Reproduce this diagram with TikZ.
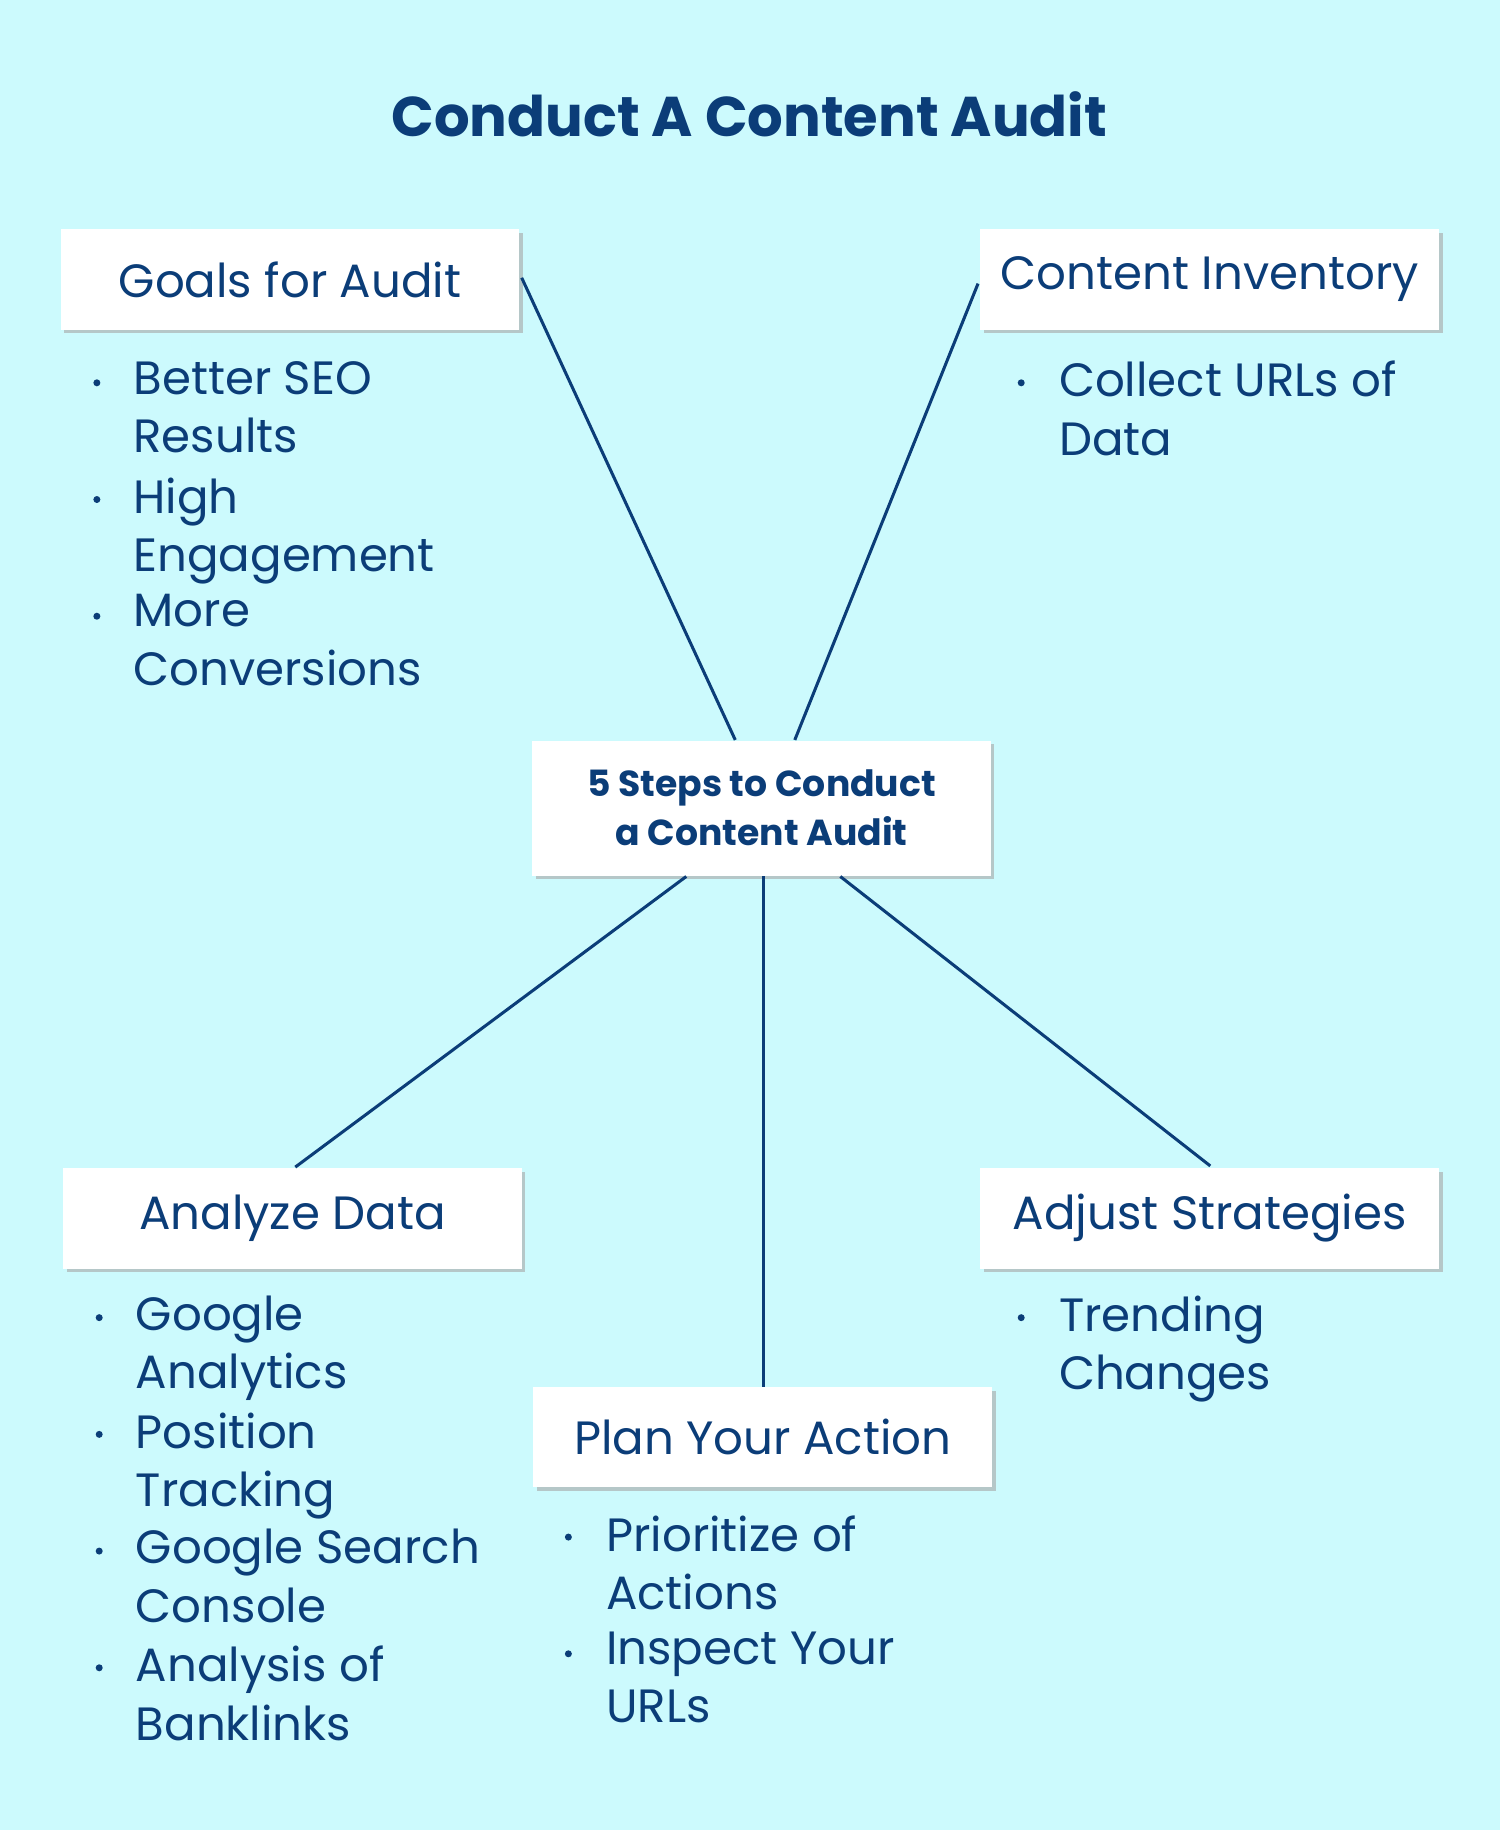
\documentclass[tikz,border=0pt]{standalone}
\usepackage{fontspec}
\setmainfont{Poppins}
\usetikzlibrary{shadows}
\definecolor{bg}{HTML}{CCFAFD}
\definecolor{ink}{HTML}{0B3D78}
\tikzset{
  box/.style={draw=none,fill=white,minimum width=196.5pt,minimum height=43pt,inner sep=0pt,
    drop shadow={shadow xshift=1.5pt,shadow yshift=-1.5pt,fill=black!35,opacity=0.6},
    font=\fontsize{20}{24}\selectfont,text=ink},
  item/.style={anchor=north west,inner sep=0pt,align=left,text=ink,font=\fontsize{20}{25}\selectfont},
  link/.style={draw=ink,line width=1.3pt},
  dot/.style={fill=ink,circle,inner sep=0pt,minimum size=3pt}
}
\begin{document}
\begin{tikzpicture}[x=0.5pt,y=-0.5pt]
\fill[bg] (0,0) rectangle (1285,1568);
\useasboundingbox (0,0) rectangle (1285,1568);
\node[text=ink,font=\fontsize{24}{28}\selectfont\bfseries] (title) at (642,98) {Conduct A Content Audit};
\node[box] (goals) at (248.5,239.5) {Goals for Audit};
\node[box] (inv) at (1036.5,239.5) {Content Inventory};
\node[box,minimum height=58pt,align=center,font=\fontsize{15.5}{21}\selectfont\bfseries] (center) at (652.5,692.5) {5 Steps to Conduct\\a Content Audit};
\node[box] (analyze) at (250.5,1044) {Analyze Data};
\node[box] (adjust) at (1036.5,1044) {Adjust Strategies};
\node[box] (plan) at (653.5,1231.5) {Plan Your Action};
\coordinate (c1) at (630,634); \coordinate (c2) at (681,634);
\coordinate (c3) at (588,751); \coordinate (c4) at (654,751); \coordinate (c5) at (720,751);
\coordinate (g) at (447,238); \coordinate (i) at (838,243);
\coordinate (a) at (253,1000); \coordinate (p) at (654,1188); \coordinate (d) at (1037,999);
\draw[link] (g) -- (c1); \draw[link] (i) -- (c2);
\draw[link] (c3) -- (a); \draw[link] (c4) -- (p); \draw[link] (c5) -- (d);
% bullets
\foreach \x/\y in {83/328,83/428,83/528,875/328,85/1129,85/1229,85/1329,85/1429,487/1317,487/1417,875/1129}
  \node[dot] at (\x,\y) {};
\node[item] (g1) at (114,309) {Better SEO\\Results};
\node[item] (g2) at (114,409) {High\\Engagement};
\node[item] (g3) at (114,509) {More\\Conversions};
\node[item] (i1) at (907,309) {Collect URLs of\\Data};
\node[item] (a1) at (116,1110) {Google\\Analytics};
\node[item] (a2) at (116,1210) {Position\\Tracking};
\node[item] (a3) at (116,1310) {Google Search\\Console};
\node[item] (a4) at (116,1410) {Analysis of\\Banklinks};
\node[item] (p1) at (519,1298) {Prioritize of\\Actions};
\node[item] (p2) at (519,1398) {Inspect Your\\URLs};
\node[item] (d1) at (907,1110) {Trending\\Changes};
\end{tikzpicture}
\end{document}
